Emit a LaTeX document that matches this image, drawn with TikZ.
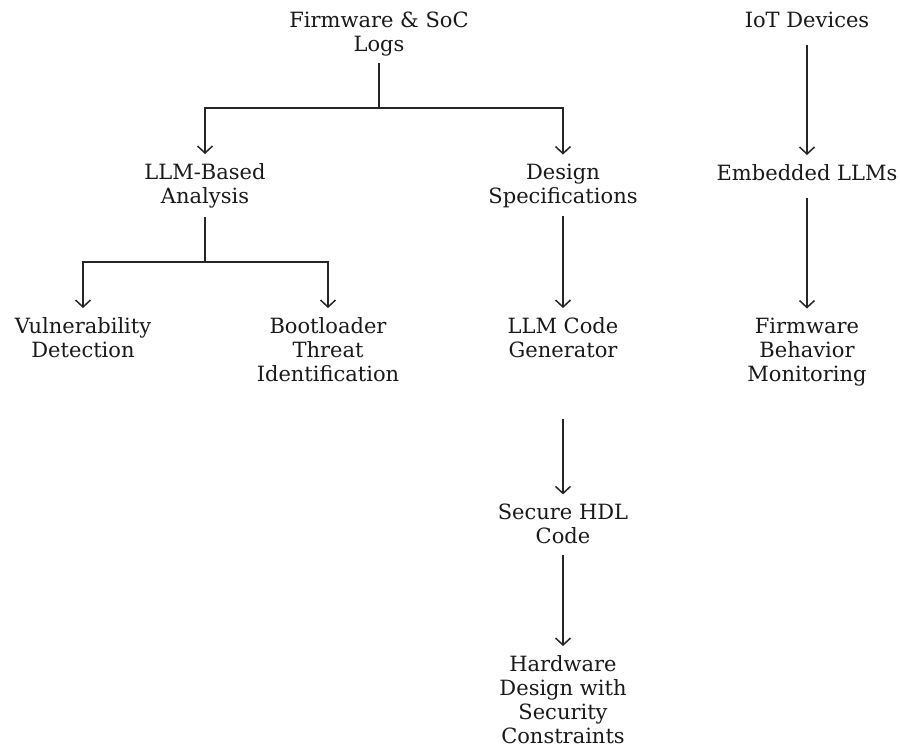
\documentclass[tikz,border=0pt]{standalone}
\usepackage{fontspec}
\setmainfont{DejaVu Serif}
\usetikzlibrary{arrows.meta,calc}
\begin{document}
\begin{tikzpicture}[x=1pt,y=-1pt,
  lbl/.style={align=center,inner sep=0pt,outer sep=0pt,anchor=base,
    font=\fontsize{21}{24}\selectfont,text=black!90},
  conn/.style={line width=1.5pt,draw=black!85},
  arr/.style={conn,-{Straight Barb[length=7pt,width=15pt,line width=1.5pt]},shorten >=9pt}]
\useasboundingbox (0,0) rectangle (900,747);
% base anchor = baseline of the last line
\node[lbl] (fw)  at (379,51)  {Firmware \& SoC\\Logs};
\node[lbl] (iot) at (807,27)  {IoT Devices};
\node[lbl] (llm) at (205,203) {LLM-Based\\Analysis};
\node[lbl] (ds)  at (563,203) {Design\\Specifications};
\node[lbl] (emb) at (807,180) {Embedded LLMs};
\node[lbl] (vd)  at (83,357)  {Vulnerability\\Detection};
\node[lbl] (bt)  at (328,381) {Bootloader\\Threat\\Identification};
\node[lbl] (gen) at (563,357) {LLM Code\\Generator};
\node[lbl] (fbm) at (807,381) {Firmware\\Behavior\\Monitoring};
\node[lbl] (hdl) at (563,543) {Secure HDL\\Code};
\node[lbl] (hw)  at (563,743) {Hardware\\Design with\\Security\\Constraints};
\coordinate (j1) at (379,108);
\coordinate (j2) at (205,262);
\draw[conn,shorten <=7pt] (fw.south) -- (j1);
\draw[arr] (j1) -| (llm.north);
\draw[arr] (j1) -| (ds.north);
\draw[arr,shorten <=18pt] (iot.south) -- (emb.north);
\draw[conn,shorten <=9pt] (llm.south) -- (j2);
\draw[arr] (j2) -| (vd.north);
\draw[arr] (j2) -| (bt.north);
\draw[arr,shorten <=9pt] (ds.south) -- (gen.north);
\draw[arr,shorten <=18pt] (emb.south) -- (fbm.north);
\draw[arr,shorten <=62pt] (gen.south) -- (hdl.north);
\draw[arr,shorten <=12pt] (hdl.south) -- (hw.north);
\end{tikzpicture}
\end{document}
